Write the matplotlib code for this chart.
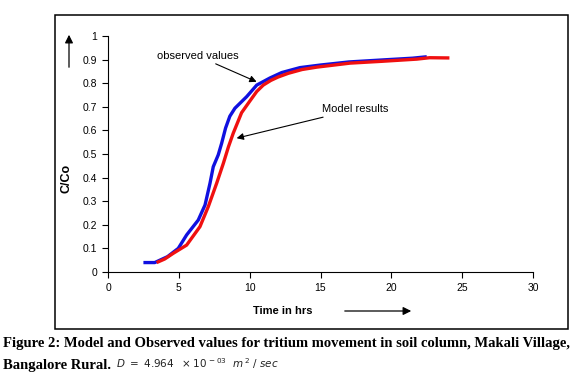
import matplotlib
matplotlib.use("Agg")
import matplotlib.pyplot as plt
from matplotlib.patches import Rectangle

# observed values (blue)
obs_t = [2.5, 3.3, 4.2, 4.96, 5.55, 6.37, 6.85, 7.2, 7.43, 7.78, 8.02, 8.3, 8.6, 8.96,
         9.4, 9.79, 10.5, 11.43, 12.26, 13.55, 15.0, 17.0, 19.5, 21.5, 22.5]
obs_c = [0.04, 0.04, 0.065, 0.10, 0.157, 0.22, 0.284, 0.376, 0.446, 0.496, 0.545,
         0.61, 0.66, 0.694, 0.72, 0.743, 0.792, 0.822, 0.845, 0.866, 0.877, 0.89,
         0.899, 0.906, 0.912]

# model results (red)
mod_t = [3.43, 4.0, 4.6, 5.55, 6.49, 7.08, 7.67, 8.14, 8.5, 8.84, 9.43, 10.02,
         10.5, 10.96, 11.5, 12.0, 12.73, 13.7, 14.73, 17.08, 19.4, 21.8, 22.7, 24.1]
mod_c = [0.04, 0.055, 0.079, 0.114, 0.192, 0.277, 0.376, 0.46, 0.53, 0.588, 0.675,
         0.725, 0.765, 0.792, 0.812, 0.826, 0.842, 0.858, 0.868, 0.885, 0.893,
         0.902, 0.908, 0.907]

xticks = [0, 5, 10, 15, 20, 25, 30]
yticks = [0, 0.1, 0.2, 0.3, 0.4, 0.5, 0.6, 0.7, 0.8, 0.9, 1]
ylabels = ["0", "0.1", "0.2", "0.3", "0.4", "0.5", "0.6", "0.7", "0.8", "0.9", "1"]

plt.rcParams["font.family"] = ["Liberation Sans", "DejaVu Sans"]

W, H = 577, 385
fig = plt.figure(figsize=(W / 100, H / 100), dpi=100)

# chart frame
fig.patches.append(Rectangle((55 / W, 1 - 329 / H), 513 / W, 314 / H,
                             transform=fig.transFigure, fill=False,
                             edgecolor="black", lw=1.1))

ax = fig.add_axes([108 / W, 1 - 272 / H, 425 / W, 236 / H])
ax.plot(obs_t, obs_c, color="#1010e0", lw=2.4, solid_capstyle="butt")
ax.plot(mod_t, mod_c, color="#f01010", lw=2.4, solid_capstyle="butt")

ax.set_xlim(0, 30)
ax.set_ylim(0, 1)
ax.set_xticks(xticks)
ax.set_yticks(yticks)
ax.set_yticklabels(ylabels)
ax.spines["top"].set_visible(False)
ax.spines["right"].set_visible(False)
ax.tick_params(direction="out", length=4, labelsize=7.5, width=0.8, pad=4)

ax.annotate("observed values", xy=(10.49, 0.806), xytext=(6.35, 0.915),
            ha="center", va="center", fontsize=8,
            arrowprops=dict(arrowstyle="-|>", color="black", lw=0.8,
                            mutation_scale=10, shrinkA=0, shrinkB=0))
ax.annotate("Model results", xy=(9.08, 0.567), xytext=(15.1, 0.689),
            ha="left", va="center", fontsize=8,
            arrowprops=dict(arrowstyle="-|>", color="black", lw=0.8,
                            mutation_scale=10, shrinkA=0, shrinkB=0))

# axis labels with direction arrows
fig.text(66 / W, 1 - 178 / H, "C/Co", rotation=90, ha="center", va="center",
         fontsize=9, fontweight="bold")
fig.text(283 / W, 1 - 311 / H, "Time in hrs", ha="center", va="center",
         fontsize=8, fontweight="bold")
fig.add_artist(matplotlib.patches.FancyArrowPatch(
    (69 / W, 1 - 70 / H), (69 / W, 1 - 32 / H), transform=fig.transFigure,
    arrowstyle="-|>", mutation_scale=12, color="black", lw=0.9))
fig.add_artist(matplotlib.patches.FancyArrowPatch(
    (342 / W, 1 - 311 / H), (414 / W, 1 - 311 / H), transform=fig.transFigure,
    arrowstyle="-|>", mutation_scale=12, color="black", lw=0.9))

# caption
fig.text(3 / W, 1 - 343 / H,
         "Figure 2: Model and Observed values for tritium movement in soil column, Makali Village,",
         ha="left", va="center", fontsize=10.5, fontweight="bold",
         family=["Liberation Serif", "DejaVu Serif"])
fig.text(3 / W, 1 - 365 / H, "Bangalore Rural.", ha="left", va="center",
         fontsize=10.5, fontweight="bold", family=["Liberation Serif", "DejaVu Serif"])
fig.text(116 / W, 1 - 364 / H,
         r"$D\ =\ 4.964\ \ \times 10^{\,-03}\ \ m^{\,2}\ /\ sec$",
         ha="left", va="center", fontsize=7.5, color="#222222")

fig.savefig("out.png", dpi=100)
